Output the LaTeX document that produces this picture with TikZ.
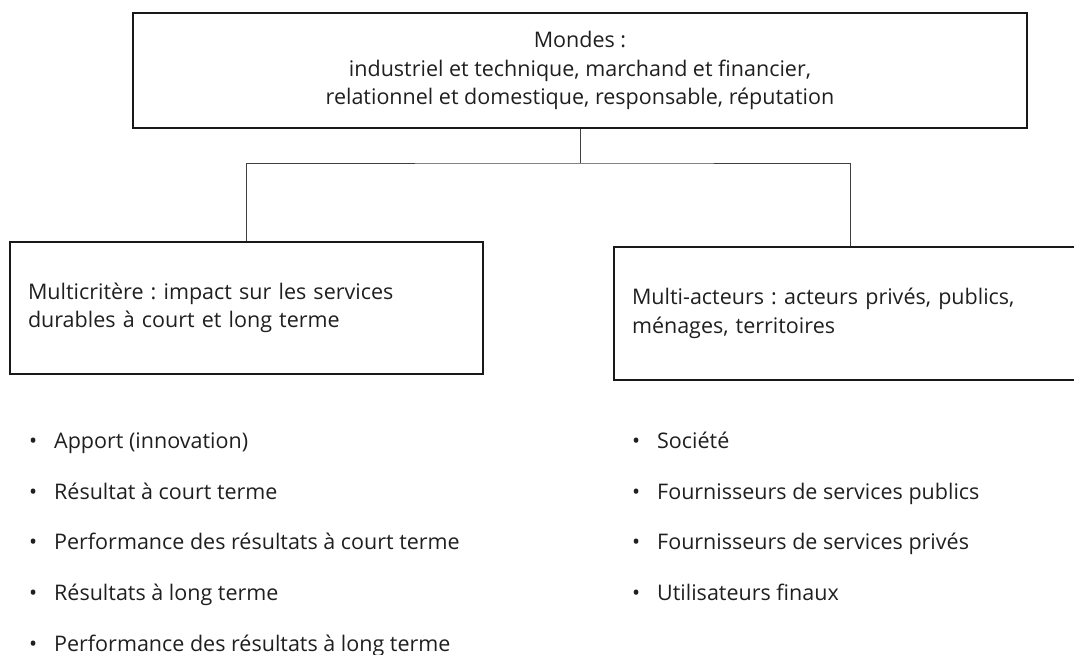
\documentclass[tikz,border=0pt]{standalone}
\usepackage{fontspec}
\setmainfont{Open Sans}
\frenchspacing
\begin{document}
\begin{tikzpicture}[x=1pt,y=-1pt,
  every node/.style={font=\fontsize{21.5}{28.5}\selectfont, text=black!88},
  box/.style={draw=black!90, line width=1.6pt, rectangle, inner ysep=0pt},
  conn/.style={draw=black!75, line width=0.9pt},
  item/.style={anchor=base west, inner sep=0pt}]
\useasboundingbox (0,0) rectangle (1074,655);
\node[box, minimum width=894pt, minimum height=115pt, align=center] (top) at (580,70.5)
  {Mondes :\\industriel et technique, marchand et financier,\\relationnel et domestique, responsable, réputation};
\node[box, minimum width=473pt, minimum height=132pt, text width=437pt, inner xsep=18pt, align=left] (left) at (246.5,308)
  {Multicritère : impact sur les services\\durables à court et long terme};
\node[box, minimum width=472pt, minimum height=133pt, text width=436pt, inner xsep=18pt, align=left] (right) at (850,313.5)
  {Multi-acteurs : acteurs privés, publics,\\ménages, territoires};
\coordinate (j) at (580,163);
\draw[conn] (top.south) -- (j);
\draw[conn] (left.north) |- (j) -| (right.north);
\node[item] (l1) at (29,448) {\makebox[25pt][l]{•}Apport (innovation)};
\node[item] (l2) at (29,499) {\makebox[25pt][l]{•}Résultat à court terme};
\node[item] (l3) at (29,549.5) {\makebox[25pt][l]{•}Performance des résultats à court terme};
\node[item] (l4) at (29,600) {\makebox[25pt][l]{•}Résultats à long terme};
\node[item] (l5) at (29,651) {\makebox[25pt][l]{•}Performance des résultats à long terme};
\node[item] (r1) at (632,448) {\makebox[25pt][l]{•}Société};
\node[item] (r2) at (632,499) {\makebox[25pt][l]{•}Fournisseurs de services publics};
\node[item] (r3) at (632,549.5) {\makebox[25pt][l]{•}Fournisseurs de services privés};
\node[item] (r4) at (632,600) {\makebox[25pt][l]{•}Utilisateurs finaux};
\end{tikzpicture}
\end{document}
